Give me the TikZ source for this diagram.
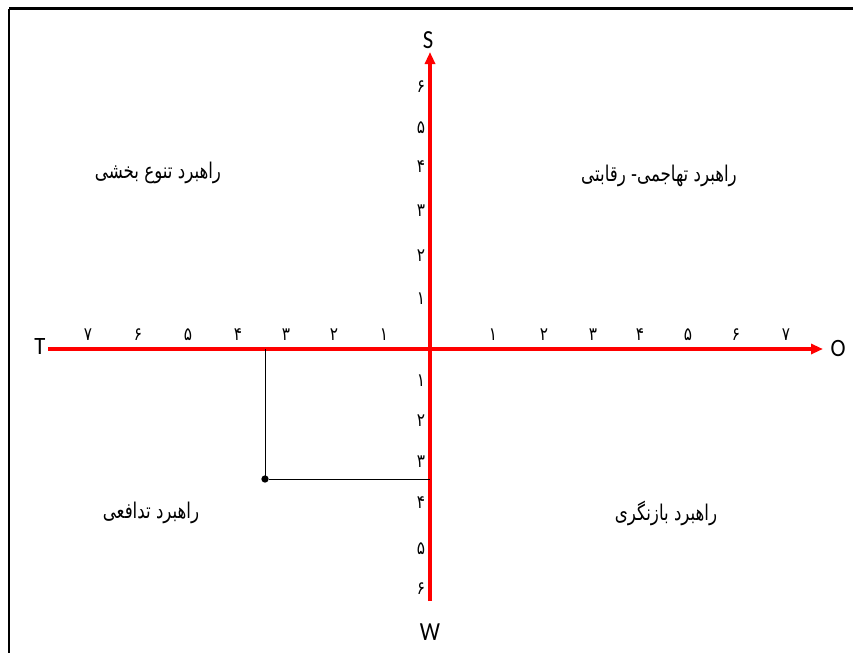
\documentclass[tikz,border=0pt]{standalone}
\usepackage{fontspec}
\setmainfont{Carlito}
\newfontfamily\farsifont[Script=Arabic]{DejaVu Sans}
\TeXXeTstate=1
\usetikzlibrary{arrows.meta}

% taller Persian glyphs, as in the figure
\newcommand{\tall}[2][1.3]{\scalebox{1}[#1]{#2}}

\begin{document}
\begin{tikzpicture}[x=0.75pt,y=0.75pt,yscale=-1,xscale=1,
		axis/.style={draw={rgb,255:red,255;green,0;blue,0},line width=3pt,-{Triangle[length=9pt,width=7.5pt]}},
		pole/.style={font=\fontsize{17}{20}\selectfont,inner sep=0pt},
		digit/.style={font=\farsifont\fontsize{11.5}{13}\selectfont,inner sep=0pt},
		strategy/.style={font=\farsifont\fontsize{12.5}{15}\selectfont,inner sep=0pt}]
		\useasboundingbox (0,0) rectangle (853,653);
		
		%Shape: Frame
		\draw [line width=2.25pt] (853,8.5) -- (8.5,8.5) ;
		\draw [line width=1.5pt] (8.5,8.5) -- (8.5,653) ;
		
		% Axis ends
		\coordinate (tEnd) at (48,349) ;
		\coordinate (oEnd) at (823,349) ;
		\coordinate (wEnd) at (430,601) ;
		\coordinate (sEnd) at (430,52) ;
		\coordinate (hThree) at (265,349) ;
		\coordinate (vFour) at (430,479) ;
		
		%Straight Lines: axes
		\draw [axis] (tEnd) -- (oEnd) ;
		\draw [axis] (wEnd) -- (sEnd) ;
		
		%Straight Lines: position of the firm
		\draw [line width=0.75pt] (hThree) -- (265,479) node (firm) [circle,fill,inner sep=0pt,minimum size=5.5pt] {} ;
		\draw [line width=0.75pt] (firm) -- (vFour) ;
		
		% Text Node
		\draw (428,40) node (labS) [pole] {\tall[1.15]{S}};
		% Text Node
		\draw (430,632) node (labW) [pole] {\tall[1.15]{W}};
		% Text Node
		\draw (40,346) node (labT) [pole] {\tall[1.1]{T}};
		% Text Node
		\draw (838,348) node (labO) [pole] {\tall[1.1]{O}};
		
		% Text Node: T side
		\draw (384,335) node (t1) [digit] {\tall[1.2]{۱}};
		\draw (334,335) node (t2) [digit] {\tall[1.2]{۲}};
		\draw (286,335) node (t3) [digit] {\tall[1.2]{۳}};
		\draw (238,335) node (t4) [digit] {\tall[1.2]{۴}};
		\draw (188,335) node (t5) [digit] {\tall[1.2]{۵}};
		\draw (138,335) node (t6) [digit] {\tall[1.2]{۶}};
		\draw (88,335) node (t7) [digit] {\tall[1.2]{۷}};
		% Text Node: O side
		\draw (493,335) node (o1) [digit] {\tall[1.2]{۱}};
		\draw (544,335) node (o2) [digit] {\tall[1.2]{۲}};
		\draw (593,335) node (o3) [digit] {\tall[1.2]{۳}};
		\draw (640,335) node (o4) [digit] {\tall[1.2]{۴}};
		\draw (688,335) node (o5) [digit] {\tall[1.2]{۵}};
		\draw (736,335) node (o6) [digit] {\tall[1.2]{۶}};
		\draw (786,335) node (o7) [digit] {\tall[1.2]{۷}};
		% Text Node: S side
		\draw (421,299) node (s1) [digit] {\tall[1.2]{۱}};
		\draw (421,256) node (s2) [digit] {\tall[1.2]{۲}};
		\draw (421,211) node (s3) [digit] {\tall[1.2]{۳}};
		\draw (421,167) node (s4) [digit] {\tall[1.2]{۴}};
		\draw (421,128) node (s5) [digit] {\tall[1.2]{۵}};
		\draw (421,87) node (s6) [digit] {\tall[1.2]{۶}};
		% Text Node: W side
		\draw (421,381) node (w1) [digit] {\tall[1.2]{۱}};
		\draw (421,421) node (w2) [digit] {\tall[1.2]{۲}};
		\draw (421,462) node (w3) [digit] {\tall[1.2]{۳}};
		\draw (421,503) node (w4) [digit] {\tall[1.2]{۴}};
		\draw (421,549) node (w5) [digit] {\tall[1.2]{۵}};
		\draw (421,589) node (w6) [digit] {\tall[1.2]{۶}};
		
		% Text Node
		\draw (158,173) node (stDiv) [strategy] {\tall{\beginR راهبرد تنوع بخشی\endR}};
		% Text Node
		\draw (659,176) node (stAgg) [strategy] {\tall{\beginR راهبرد تهاجمی- رقابتی\endR}};
		% Text Node
		\draw (151,513) node (stDef) [strategy] {\tall{\beginR راهبرد تدافعی\endR}};
		% Text Node
		\draw (666,513) node (stRev) [strategy] {\tall{\beginR راهبرد بازنگری\endR}};
		
\end{tikzpicture}
\end{document}
